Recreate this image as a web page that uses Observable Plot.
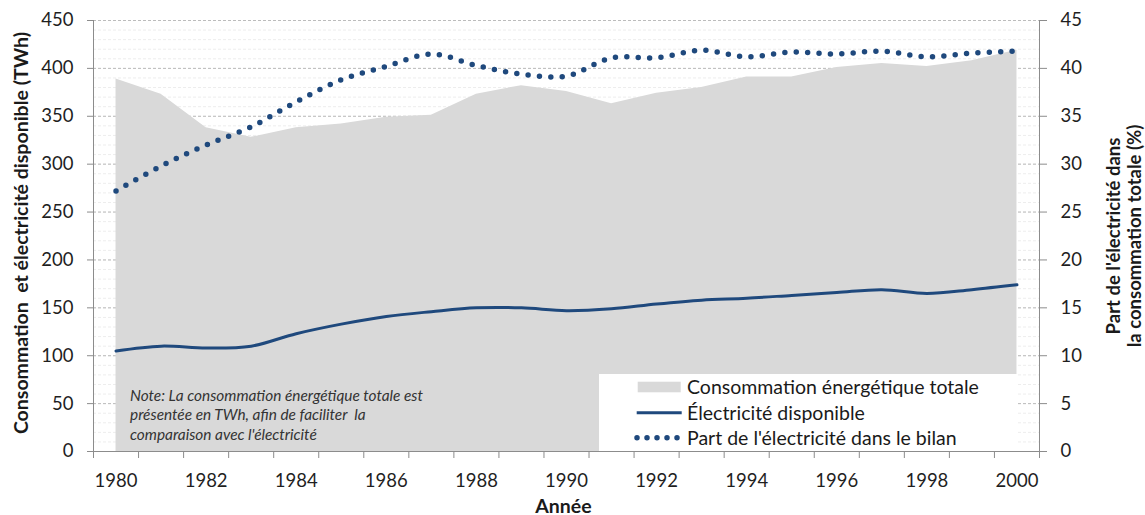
<!DOCTYPE html>
<html>
<head>
<meta charset="utf-8">
<script src="https://cdn.jsdelivr.net/npm/d3@7"></script>
<script src="https://cdn.jsdelivr.net/npm/@observablehq/plot@0.6"></script>
<style>
  html, body { margin: 0; padding: 0; background: #ffffff; }
  #wrap { position: relative; width: 1145px; height: 515px; font-family: Lato, "Open Sans", sans-serif; color: #262626; }
  #legend { position: absolute; left: 599px; top: 374px; width: 418px; height: 77px; background: #ffffff; }
  .lg-item { position: absolute; left: 88px; font-size: 19.5px; line-height: 22px; white-space: nowrap; color: #1a1a1a; }
  #note { position: absolute; left: 130px; top: 386px; font-size: 15.4px; font-style: italic; line-height: 19.3px; color: #333333; white-space: pre; }
</style>
</head>
<body>
<div id="wrap"></div>
<script>
// ---- data ----
const years = [1980, 1981, 1982, 1983, 1984, 1985, 1986, 1987, 1988, 1989, 1990,
               1991, 1992, 1993, 1994, 1995, 1996, 1997, 1998, 1999, 2000];
// Consommation énergétique totale (TWh)
const totalConsumption = [389, 373, 338, 328, 338, 342, 349, 351, 373, 382, 376,
                          363, 374, 380, 391, 391, 401, 405, 402, 408, 419];
// Électricité disponible (TWh)
const electricity = [105, 110, 108, 110, 123, 133, 141, 146, 150, 150, 147,
                     149, 154, 158, 160, 163, 166, 169, 165, 169, 174];
// Part de l'électricité dans le bilan (%)
const electricityShare = [27.2, 29.8, 32.0, 33.9, 36.5, 38.8, 40.2, 41.5, 40.3, 39.4, 39.2,
                          41.1, 41.1, 41.9, 41.2, 41.7, 41.5, 41.8, 41.2, 41.6, 41.8];

const xTickYears = [1980, 1982, 1984, 1986, 1988, 1990, 1992, 1994, 1996, 1998, 2000];
const leftTicks = [0, 50, 100, 150, 200, 250, 300, 350, 400, 450];
const rightTicks = [0, 5, 10, 15, 20, 25, 30, 35, 40, 45];

const labels = {
  area: "Consommation énergétique totale",
  line: "Électricité disponible",
  dots: "Part de l'électricité dans le bilan",
  xTitle: "Année",
  yLeftTitle: "Consommation  et électricité disponible (TWh)",
  yRightTitle: "Part de l'électricité dans\nla consommation totale (%)",
  note: "Note: La consommation énergétique totale est\nprésentée en TWh, afin de faciliter  la\ncomparaison avec l'électricité"
};

// ---- build table ----
const shareScale = 450 / 45; // right axis (%) -> left axis (TWh) units
const data = years.map((year, i) => ({
  year,
  total: totalConsumption[i],
  elec: electricity[i],
  share: electricityShare[i]
}));

const xDomain = [years[0] - 0.5, years[years.length - 1] + 0.5];
const categoryEdges = d3.range(xDomain[0], xDomain[1] + 0.01, 1);
const minorGrid = d3.range(0, 451, 10);

const blue = "#1f497d";
const axisGray = "#8c8c8c";
const font = "Lato, 'Open Sans', sans-serif";

const chart = Plot.plot({
  width: 1145,
  height: 515,
  marginLeft: 93,
  marginRight: 106,
  marginTop: 20,
  marginBottom: 64,
  style: { fontFamily: font, fontSize: "18.5px", color: "#262626", background: "transparent", overflow: "visible" },
  x: { domain: xDomain, axis: null },
  y: { domain: [0, 450], axis: null },
  marks: [
    Plot.gridY(minorGrid, { stroke: "#ededed", strokeOpacity: 1, strokeDasharray: "3,2" }),
    Plot.gridY(leftTicks, { stroke: "#bcbcbc", strokeOpacity: 1, strokeDasharray: "3,2" }),
    Plot.areaY(data, { x: "year", y: "total", fill: "#d9d9d9", curve: "linear" }),
    Plot.lineY(data, { x: "year", y: "elec", stroke: blue, strokeWidth: 3, curve: "catmull-rom" }),
    Plot.lineY(data, { x: "year", y: d => d.share * shareScale, stroke: blue, strokeWidth: 5.5,
                       strokeDasharray: "0,11.4", strokeLinecap: "round", curve: "catmull-rom" }),
    // axis lines
    Plot.ruleX(xDomain, { stroke: axisGray, strokeWidth: 1 }),
    Plot.ruleY([0], { stroke: axisGray, strokeWidth: 1 }),
    // left axis
    Plot.axisY(leftTicks, { anchor: "left", tickSize: 6, tickPadding: 14, stroke: axisGray, fill: "#1f1f1f", label: null, fontSize: 18.5 }),
    // right axis (percentage)
    Plot.axisY(rightTicks.map(v => v * shareScale), { anchor: "right", tickSize: 7, tickPadding: 14,
      tickFormat: d => String(d / shareScale), stroke: axisGray, fill: "#1f1f1f", label: null, fontSize: 18.5 }),
    // x axis tick marks at category edges
    Plot.axisX(categoryEdges, { anchor: "bottom", tickSize: 7, tickFormat: () => "", stroke: axisGray, label: null }),
    // x axis labels
    Plot.axisX(xTickYears, { anchor: "bottom", tickSize: 0, tickPadding: 22, tickFormat: d => String(d), fill: "#1f1f1f", label: null, fontSize: 18.5 }),
    // axis titles
    Plot.text([labels.xTitle], { frameAnchor: "bottom", textAnchor: "middle", dy: 55, dx: -3, lineAnchor: "middle", fontWeight: "bold", fontSize: 19.5, fill: "#1a1a1a" }),
    Plot.text([labels.yLeftTitle], { frameAnchor: "left", textAnchor: "middle", rotate: -90, dx: -72, dy: -3, lineAnchor: "middle", fontWeight: "bold", fontSize: 19.5, fill: "#1a1a1a" }),
    Plot.text([labels.yRightTitle], { frameAnchor: "right", textAnchor: "middle", rotate: -90, dx: 84, lineAnchor: "middle", lineHeight: 1.15, fontWeight: "bold", fontSize: 18.5, fill: "#1a1a1a" })
  ]
});

const wrap = document.getElementById("wrap");
wrap.appendChild(chart);

// note (inside the plot area)
const note = document.createElement("div");
note.id = "note";
note.textContent = labels.note;
wrap.appendChild(note);

// legend (inside plot area, bottom right)
const legend = document.createElement("div");
legend.id = "legend";
legend.innerHTML = `
  <svg style="top:0;left:0;position:absolute" width="90" height="77">
    <rect x="38.7" y="7.7" width="43" height="10.6" fill="#d9d9d9"></rect>
    <line x1="37.7" x2="82.7" y1="38.7" y2="38.7" stroke="${blue}" stroke-width="3"></line>
    <line x1="38" x2="80" y1="63.7" y2="63.7" stroke="${blue}" stroke-width="5.5" stroke-linecap="round" stroke-dasharray="0,10"></line>
  </svg>
  <div class="lg-item" style="top:2px">${labels.area}</div>
  <div class="lg-item" style="top:27.7px">${labels.line}</div>
  <div class="lg-item" style="top:52.7px">${labels.dots}</div>`;
wrap.appendChild(legend);
</script>
</body>
</html>
